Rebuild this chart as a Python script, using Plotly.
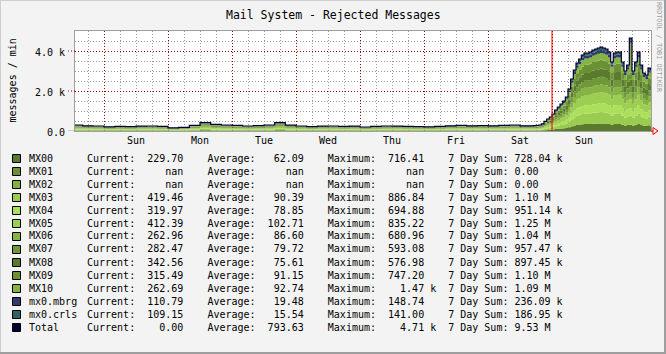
import plotly.graph_objects as go

# sample times (hours relative to the first Sunday 00:00)
hours = list(range(-12, 160, 4)) + list(range(160, 207))

mx00 = [27,23,22,19,21,20,22,22,21,14,16,25,38,30,27,25,22,24,27,38,26,22,20,22,22,21,22,18,21,22,22,21,20,19,21,23,25,23,24,23,25,27,23,
        23,24,25,27,32,43,54,63,77,95,108,122,135,153,189,234,275,306,324,342,351,351,356,365,369,374,378,374,369,356,311,351,356,356,311,270,297,311,270,311,356,297,261,252,284,230,230]
mx03 = [40,35,34,28,31,30,32,34,31,22,24,38,57,45,40,38,34,36,40,57,39,34,30,32,34,31,32,27,31,34,32,31,30,28,31,35,38,35,36,35,38,40,35,
        35,36,38,40,49,65,81,95,115,142,162,182,203,230,284,351,412,459,486,513,527,527,533,547,554,560,567,560,554,533,466,527,533,533,466,405,446,467,405,466,533,446,392,378,425,419,419]
mx04 = [32,27,26,22,24,23,25,26,24,17,19,29,44,35,32,29,26,28,32,44,30,26,23,25,26,24,25,21,24,26,25,24,23,22,24,27,29,27,28,27,29,32,27,
        27,28,29,32,38,50,63,74,89,110,126,142,158,179,221,273,320,357,378,399,410,410,415,425,431,436,441,436,431,415,362,410,415,415,362,315,347,363,315,362,415,347,304,294,331,320,320]
mx05 = [39,34,33,27,30,29,31,33,30,21,23,36,55,43,39,36,33,35,39,55,38,33,29,31,33,30,31,26,30,33,31,30,29,27,30,34,36,34,35,34,36,39,34,
        34,35,36,39,47,62,78,91,110,137,156,176,195,221,273,338,397,442,468,494,507,507,514,527,533,540,546,540,533,514,449,507,514,514,449,390,429,449,390,449,514,429,377,364,410,412,412]
mx06 = [28,25,24,20,22,21,23,24,22,15,17,27,40,31,28,27,24,26,28,40,28,24,21,23,24,22,23,19,22,24,23,22,21,20,22,25,27,25,26,25,27,28,25,
        25,26,27,28,34,46,57,66,81,100,114,128,143,162,200,247,290,323,342,361,370,370,375,385,390,394,399,394,390,375,328,370,375,375,328,285,314,328,285,328,375,314,276,266,299,263,263]
mx07 = [27,23,22,19,21,20,22,22,21,14,16,25,38,30,27,25,22,24,27,38,26,22,20,22,22,21,22,18,21,22,22,21,20,19,21,23,25,23,24,23,25,27,23,
        23,24,25,27,32,43,54,63,77,95,108,122,135,153,189,234,275,306,324,342,351,351,356,365,369,374,378,374,369,356,311,351,356,356,311,270,297,311,270,311,356,297,261,252,284,282,282]
mx08 = [30,26,25,21,23,22,24,25,23,16,18,28,42,33,30,28,25,27,30,42,29,25,22,24,25,23,24,20,23,25,24,23,22,21,23,26,28,26,27,26,28,30,26,
        26,27,28,30,36,48,60,70,85,105,120,135,150,170,210,260,305,340,360,380,390,390,395,405,410,415,420,415,410,395,345,390,395,395,345,300,330,346,300,345,395,330,290,280,315,343,343]
mx09 = [32,27,26,22,24,23,25,26,24,17,19,29,44,35,32,29,26,28,32,44,30,26,23,25,26,24,25,21,24,26,25,24,23,22,24,27,29,27,28,27,29,32,27,
        27,28,29,32,38,50,63,74,89,110,126,142,158,179,220,273,320,357,378,399,410,410,415,425,430,435,441,435,430,415,362,410,415,415,362,315,346,363,315,362,415,346,304,294,331,315,315]
mx10 = [24,21,20,17,18,18,19,20,18,13,15,23,34,26,24,23,20,22,24,34,23,20,18,19,20,18,19,16,18,20,19,18,18,17,18,21,23,21,22,21,23,24,21,
        21,22,23,24,29,38,48,56,68,84,96,108,120,136,168,208,244,272,288,304,312,312,316,324,328,332,336,332,328,316,276,312,316,316,276,240,264,1470,240,276,316,264,232,224,252,263,263]
mbrg = [11,10,9,8,8,7,9,9,8,6,7,10,14,12,11,10,9,10,11,14,11,9,7,9,9,8,9,7,8,9,9,8,7,8,8,10,10,10,10,10,10,11,10,
        10,10,10,11,13,17,21,24,30,37,42,47,52,59,74,91,107,119,126,133,136,136,138,141,143,145,147,145,143,138,121,136,138,138,121,105,115,121,105,121,138,115,102,98,110,111,111]
crls = [10,9,9,7,8,7,8,9,8,5,6,10,14,10,10,10,9,10,10,14,10,9,7,8,9,8,8,7,8,9,8,8,7,7,8,9,10,9,10,9,10,10,9,
        9,10,10,10,12,18,21,24,29,35,42,46,51,58,72,91,105,119,126,133,136,136,137,141,143,145,147,145,143,137,119,136,137,137,119,105,115,121,105,119,137,115,101,98,109,109,109]

names = ["MX00", "MX01", "MX02", "MX03", "MX04", "MX05", "MX06", "MX07", "MX08", "MX09", "MX10",
         "mx0.mbrg", "mx0.crls", "Total"]
colors = ["#5a7a2d", "#6a9235", "#84b142", "#9acd4f", "#acdf5c", "#9ccf51", "#86b344", "#6f9838",
          "#5a7a2d", "#6a9235", "#86b342", "#353a6c", "#2f6464", "#000033"]
nan = float("nan")
cur = [229.70, nan, nan, 419.46, 319.97, 412.39, 262.96, 282.47, 342.56, 315.49, 262.69, 110.79, 109.15, 0.00]
avg = [62.09, nan, nan, 90.39, 78.85, 102.71, 86.60, 79.72, 75.61, 91.15, 92.74, 19.48, 15.54, 793.63]
mxv = [716.41, nan, nan, 886.84, 694.88, 835.22, 680.96, 593.08, 576.98, 747.20, 1470.0, 148.74, 141.00, 4710.0]
sums = [728.04e3, 0.0, 0.0, 1.10e6, 951.14e3, 1.25e6, 1.04e6, 957.47e3, 897.45e3, 1.10e6, 1.09e6, 236.09e3, 186.95e3, 9.53e6]

day_ticks = [0, 24, 48, 72, 96, 120, 144, 168, 192]
day_labels = ["Sun", "Mon", "Tue", "Wed", "Thu", "Fri", "Sat", "Sun", ""]
y_ticks = [0, 2000, 4000]
y_labels = ["0.0", "2.0 k", "4.0 k"]
now_hour = 168

series = [mx00, None, None, mx03, mx04, mx05, mx06, mx07, mx08, mx09, mx10, mbrg, crls]
for s in series:
    if s is not None:
        assert len(s) == len(hours), len(s)

MONO = "DejaVu Sans Mono"
L, R, T, B = 75, 651, 31, 131
W, H = R - L, B - T


def px(x):
    return (x - L) / W


def py(y):
    return (B - y) / H


fig = go.Figure()
for name, col, s in zip(names, colors, series):
    if s is None:
        continue
    fig.add_trace(go.Scatter(x=hours, y=s, mode="lines", stackgroup="one",
                             line=dict(width=0, shape="hv", color=col),
                             fillcolor=col, name=name, showlegend=False, hoverinfo="skip"))
total = [sum(s[i] for s in series if s is not None) for i in range(len(hours))]
fig.add_trace(go.Scatter(x=hours, y=total, mode="lines", line=dict(width=1.2, shape="hv", color=colors[-1]),
                         showlegend=False, hoverinfo="skip"))

fig.update_layout(
    width=666, height=354,
    margin=dict(l=L, r=666 - R, t=T, b=354 - B),
    paper_bgcolor="#f3f3f3", plot_bgcolor="#ffffff",
    font=dict(family=MONO, size=10, color="#000000"),
    xaxis=dict(range=[-10.875, 205.125], tickmode="array", tickvals=day_ticks, ticktext=day_labels,
               ticklabelshift=32, ticks="", showgrid=True, gridcolor="#990000", griddash="1px,2px",
               gridwidth=1, zeroline=False, showline=True, linecolor="#a0a0a0", mirror=True,
               tickfont=dict(family=MONO, size=10),
               minor=dict(tick0=0, dtick=6, showgrid=True, gridcolor="#9a9a9a", griddash="1px,2px", gridwidth=1)),
    yaxis=dict(range=[0, 5000], tickmode="array", tickvals=y_ticks, ticktext=y_labels, showticklabels=False,
               ticks="", showgrid=True, gridcolor="#990000", griddash="1px,2px", gridwidth=1,
               zeroline=False, showline=True, linecolor="#a0a0a0", mirror=True, automargin=False,
               minor=dict(tick0=0, dtick=500, showgrid=True, gridcolor="#9a9a9a", griddash="1px,2px", gridwidth=1)),
)
fig.update_xaxes(automargin=False)

ann = []
shapes = []
# title
ann.append(dict(text="Mail System - Rejected Messages", x=px(333), y=py(15), xref="paper", yref="paper",
                showarrow=False, xanchor="center", yanchor="middle", font=dict(family=MONO, size=11.5)))
# y title
ann.append(dict(text="messages / min", x=px(12), y=py(80.5), xref="paper", yref="paper", textangle=-90,
                showarrow=False, xanchor="center", yanchor="middle", font=dict(family=MONO, size=10)))
# watermark
ann.append(dict(text="RRDTOOL / TOBI OETIKER", x=px(659.5), y=py(47.5), xref="paper", yref="paper", textangle=90,
                showarrow=False, xanchor="center", yanchor="middle", font=dict(family=MONO, size=6.8, color="#a0a0a0")))
# y tick labels
for v, t in zip(y_ticks, y_labels):
    ann.append(dict(text=t.replace(" ", "\u00a0"), x=px(67), y=v, xref="paper", yref="y", showarrow=False,
                    xanchor="right", yanchor="middle", yshift=-1, font=dict(family=MONO, size=10)))
    shapes.append(dict(type="line", xref="paper", yref="y", x0=px(68), x1=px(75), y0=v, y1=v,
                       line=dict(color="#a0a0a0" if v == 0 else "#990000", width=1,
                                 dash="solid" if v == 0 else "1px,2px")))

# now line
shapes.append(dict(type="line", xref="x", yref="paper", x0=now_hour, x1=now_hour, y0=0, y1=1,
                   line=dict(color="#ff0000", width=1), layer="above"))
# arrow at end of x axis
shapes.append(dict(type="path", xref="paper", yref="paper",
                   path=f"M {px(651)},{py(131)} L {px(653)},{py(131)} M {px(653)},{py(127.5)} L {px(658)},{py(131)} L {px(653)},{py(134.5)} Z",
                   line=dict(color="#ff0000", width=1), layer="above"))


def si(v):
    if v != v:
        return v, " "
    if abs(v) >= 1e6:
        return v / 1e6, "M"
    if abs(v) >= 1e3:
        return v / 1e3, "k"
    return v, " "


for i, (n, c) in enumerate(zip(names, colors)):
    yc = 158 + 13 * i
    shapes.append(dict(type="rect", xref="paper", yref="paper", x0=px(12.5), x1=px(20.5), y0=py(154.5), y1=py(162.5),
                       fillcolor=c, line=dict(color="#000000", width=1)) if False else
                  dict(type="rect", xref="paper", yref="paper", x0=px(12.5), x1=px(20.5), y0=py(yc - 3.5), y1=py(yc + 4.5),
                       fillcolor=c, line=dict(color="#000000", width=1)))
    ann.append(dict(text=n, x=px(27), y=py(yc), xref="paper", yref="paper", showarrow=False,
                    xanchor="left", yanchor="middle", font=dict(family=MONO, size=10)))
    a1, s1 = si(cur[i])
    a2, s2 = si(avg[i])
    a3, s3 = si(mxv[i])
    a4, s4 = si(sums[i])
    line = f"Current:{a1:8.2f} {s1}  Average:{a2:8.2f} {s2}  Maximum:{a3:8.2f} {s3}  7 Day Sum: {a4:.2f} {s4}"
    ann.append(dict(text=line.rstrip().replace(" ", "\u00a0"), x=px(85), y=py(yc), xref="paper", yref="paper",
                    showarrow=False, xanchor="left", yanchor="middle", font=dict(family=MONO, size=10)))

# outer 3D border
shapes.append(dict(type="line", xref="paper", yref="paper", x0=px(0), x1=px(666), y0=py(0.5), y1=py(0.5),
                   line=dict(color="#cfcfcf", width=1)))
shapes.append(dict(type="line", xref="paper", yref="paper", x0=px(0.5), x1=px(0.5), y0=py(0), y1=py(354),
                   line=dict(color="#cfcfcf", width=1)))
shapes.append(dict(type="line", xref="paper", yref="paper", x0=px(0), x1=px(666), y0=py(353), y1=py(353),
                   line=dict(color="#9e9e9e", width=2)))
shapes.append(dict(type="line", xref="paper", yref="paper", x0=px(665), x1=px(665), y0=py(0), y1=py(354),
                   line=dict(color="#9e9e9e", width=2)))

fig.update_layout(annotations=ann, shapes=shapes)
fig.write_html("out.html")
